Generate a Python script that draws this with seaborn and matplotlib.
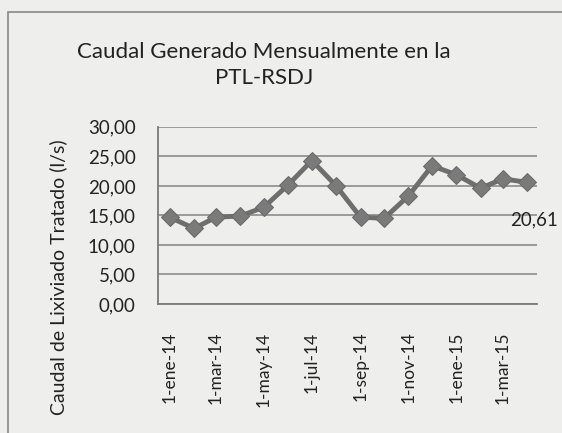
import pandas as pd
import matplotlib.pyplot as plt
import matplotlib.dates as mdates
from matplotlib.patches import Rectangle
import seaborn as sns

# --- Data ---
months = pd.date_range("2014-01-01", "2015-04-01", freq="MS")
caudal = [14.7, 12.8, 14.7, 14.9, 16.4, 20.2, 24.3, 20.0,
          14.7, 14.5, 18.3, 23.4, 21.9, 19.6, 21.2, 20.61]
tick_dates = pd.to_datetime(["2014-01-01", "2014-03-01", "2014-05-01", "2014-07-01",
                             "2014-09-01", "2014-11-01", "2015-01-01", "2015-03-01"])
tick_labels = ["1-ene-14", "1-mar-14", "1-may-14", "1-jul-14",
               "1-sep-14", "1-nov-14", "1-ene-15", "1-mar-15"]
y_ticks = [0, 5, 10, 15, 20, 25, 30]

df = pd.DataFrame({"Mes": months, "Caudal": caudal})

# --- Style ---
sns.set_style("white")
plt.rcParams["font.family"] = ["Lato", "DejaVu Sans"]
BG = "#eeeeec"
INK = "#222222"
LINE = "#6e6e6e"

fig = plt.figure(figsize=(5.62, 4.33), dpi=100, facecolor=BG)
ax = fig.add_axes([0.281, 0.298, 0.675, 0.409], facecolor=BG)

# chart frame (Excel chart border)
fig.patches.append(Rectangle((8 / 562, -0.05), 1.0, 1 - 12 / 433 + 0.05,
                             transform=fig.transFigure, fill=False,
                             edgecolor="#8a8a8a", linewidth=1.2))

sns.lineplot(data=df, x="Mes", y="Caudal", ax=ax, color=LINE, linewidth=3.5,
             marker="D", markersize=9.5, markerfacecolor="#7a7a7a",
             markeredgecolor="#6a6a6a", zorder=3)

ax.set_ylim(0, 30)
ax.set_yticks(y_ticks)
ax.set_yticklabels([f"{v:.2f}".replace(".", ",") for v in y_ticks], fontsize=13.5, color=INK)
ax.yaxis.grid(True, color="#8c8c8c", linewidth=1.2)
ax.set_axisbelow(True)

ax.set_xlim(months[0] - pd.Timedelta(days=15), months[-1] + pd.Timedelta(days=13))
ax.set_xticks(mdates.date2num(tick_dates))
ax.set_xticklabels(tick_labels, rotation=90, fontsize=12.5, color=INK)
ax.tick_params(axis="both", length=0)
ax.tick_params(axis="y", pad=16)
ax.tick_params(axis="x", pad=20)

for side in ["top", "right"]:
    ax.spines[side].set_visible(False)
for side in ["left", "bottom"]:
    ax.spines[side].set_color("#7a7a7a")
    ax.spines[side].set_linewidth(1.3)

ax.set_xlabel("")
ax.set_ylabel("")

# data label on the last point
ax.annotate(f"{caudal[-1]:.2f}".replace(".", ","), (mdates.date2num(months[-1]), caudal[-1]),
            xytext=(-12, -27), textcoords="offset points", fontsize=13.5, color=INK,
            ha="left", va="center", annotation_clip=False)

fig.text(0.47, 0.85, "Caudal Generado Mensualmente en la\nPTL-RSDJ", ha="center",
         va="center", fontsize=16, color=INK, linespacing=1.35)
fig.text(0.103, 0.36, "Caudal de Lixiviado Tratado (l/s)", rotation=90, ha="center",
         va="center", fontsize=14, color=INK)

plt.savefig("out.png", dpi=100, facecolor=BG)
